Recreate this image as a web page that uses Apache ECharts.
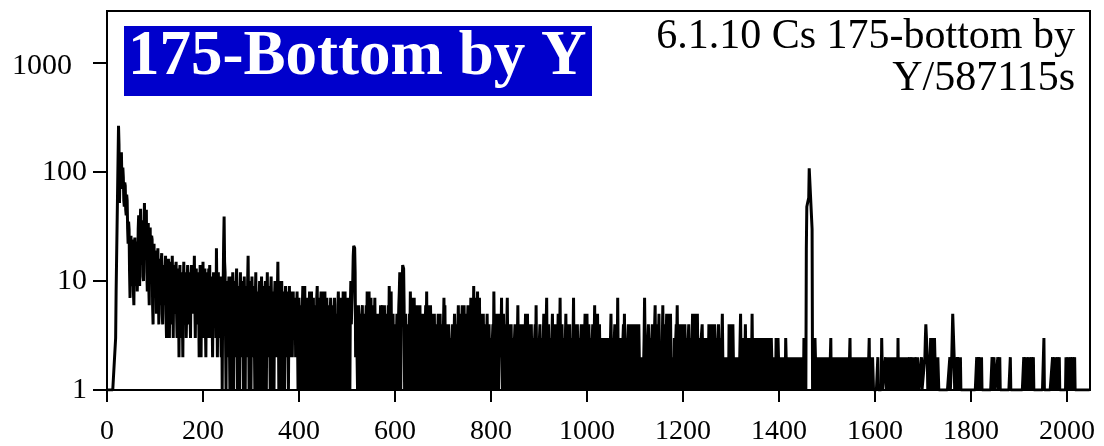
<!DOCTYPE html>
<html>
<head>
<meta charset="utf-8">
<title>175-Bottom by Y</title>
<script src="https://cdn.jsdelivr.net/npm/echarts@6/dist/echarts.min.js"></script>
<style>
  html, body { margin: 0; padding: 0; background: #fff; }
  #chart { width: 1104px; height: 446px; }
</style>
</head>
<body>
<div id="chart"></div>
<script>
// Gamma spectrum, counts per channel, 2048 channels split in four bands of 512.
// Empty channels are plotted at the floor of the log scale (1).
const countsBand1 = [ // channels 0-511
  1,1,1,1,1,1,1,1, 1,1,1,1,1,1,1,1, 1,1,3,8,16,32,64,130, 266,180,52,95,110,70,152,85,
  70,110,90,55,48,80,75,45, 40,62,55,30,22,35,30,12, 7,20,26,10,9,24,22,8, 6,18,25,9,11,23,21,8,
  12,30,40,15,9,28,46,20, 14,33,36,11,10,25,52,22, 18,38,45,12,8,27,34,9, 6,20,31,10,12,26,24,6,
  4,15,22,7,8,19,18,5, 5,14,20,9,4,12,16,6, 9,15,18,5,4,11,14,7, 6,13,17,5,3,10,14,6,
  16,7,3,11,15,6,4,12, 17,8,3,10,14,6,5,13, 15,5,3,9,13,7,2,11, 14,4,3,10,12,5,2,9,
  15,6,4,12,11,3,5,10, 14,6,4,9,12,5,3,11, 14,7,5,8,11,9,17,6, 3,10,13,5,4,9,12,6,
  2,8,14,5,2,9,12,6, 15,7,3,10,13,4,2,8, 12,5,3,9,13,7,14,4, 3,10,11,5,2,7,12,6,
  4,9,10,3,20,8,2,7, 12,5,3,10,11,4,2,8, 1,6,9,22,39,15,12,3, 1,7,10,4,2,8,11,3,
  1,6,11,4,1,8,12,5, 1,7,10,3,2,9,13,4, 1,6,9,5,1,8,12,3, 2,7,10,4,1,6,11,5,
  1,8,9,3,2,10,17,6, 1,7,10,4,1,5,11,6, 2,8,9,3,1,7,12,4, 1,6,8,5,1,7,10,3,
  1,6,11,4,1,7,9,3, 1,8,10,5,1,6,12,4, 2,7,9,3,1,8,11,5, 1,6,8,4,1,7,10,3,
  2,6,9,8,15,5,1,7, 10,4,1,6,10,5,1,7, 8,3,1,6,9,4,2,7, 8,3,1,5,9,4,2,6,
  8,4,2,5,8,3,3,6, 7,2,2,5,8,3,1,5, 7,3,1,5,6,2,1,6, 9,4,1,7,9,3,1,5,
  7,3,1,4,6,5,8,2, 1,6,8,3,1,5,7,2, 1,4,6,3,1,7,9,2, 1,5,7,3,1,6,8,2,
  1,5,8,3,1,6,8,2, 1,5,7,3,1,4,6,2, 1,5,7,3,1,4,6,2, 1,5,7,3,1,4,5,2,
  1,6,8,3,1,5,7,2, 1,4,6,3,8,2,1,5, 8,3,1,6,7,2,1,5, 7,3,1,6,10,4,4,8
];
const countsBand2 = [ // channels 512-1023
  10,17,21,21,20,12,2,3, 6,2,1,4,6,3,1,4, 5,2,1,5,6,2,1,4, 5,3,1,4,6,2,8,4,
  1,5,8,3,1,4,7,2, 1,5,6,2,1,4,7,3, 1,4,5,2,1,3,5,2, 1,4,6,2,1,5,6,2,
  1,4,6,2,1,3,5,2, 1,4,6,3,9,4,1,5, 8,2,1,3,5,2,1,4, 4,2,1,3,5,2,1,4,
  6,8,12,5,1,4,7,10, 14,14,13,6,1,3,5,2, 1,3,4,2,1,3,5,3, 8,4,1,5,7,2,1,4,
  7,3,1,4,6,2,1,4, 6,3,1,4,6,2,1,3, 5,2,1,4,5,2,1,4, 6,3,8,2,1,4,6,2,
  1,4,6,3,1,3,5,2, 1,4,5,2,1,3,4,2, 1,3,5,2,1,4,5,2, 1,3,4,2,1,4,7,3,
  6,2,1,3,4,2,1,3, 4,2,1,2,3,2,1,3, 4,2,1,3,5,2,1,3, 4,2,1,4,6,2,1,4,
  5,2,1,4,6,3,1,4, 6,2,1,3,5,2,1,4, 6,3,1,4,5,3,7,2, 1,4,7,3,9,4,1,5,
  7,3,1,4,8,3,1,5, 7,2,1,3,5,2,1,3, 5,2,1,3,4,2,1,3, 5,2,1,3,4,2,1,2,
  3,2,1,3,4,2,8,3, 1,3,5,2,1,3,5,2, 1,3,4,2,5,3,7,2, 1,3,5,2,1,3,4,2,
  1,4,7,2,1,3,4,2, 1,3,4,2,1,2,3,2, 1,3,4,2,1,3,4,3, 6,2,1,3,4,2,1,3,
  4,2,1,3,4,2,1,3, 5,2,1,3,5,2,1,3, 4,2,1,3,4,2,1,2, 3,2,1,3,4,2,6,2,
  1,2,3,2,1,3,4,2, 1,2,3,2,1,3,5,2, 1,2,3,4,7,2,1,3, 4,2,1,2,3,2,1,3,
  5,2,1,3,4,2,1,3, 4,2,1,3,5,2,1,3, 7,2,1,3,4,2,1,2, 3,2,1,3,5,2,1,3,
  4,2,1,3,4,2,1,2, 3,2,1,3,7,2,1,3, 4,2,1,3,4,2,1,2, 3,2,1,3,4,2,1,3,
  4,2,1,3,5,2,1,4, 5,2,1,3,4,2,1,2, 3,2,1,3,4,2,1,3, 6,2,1,3,4,2,5,2
];
const countsBand3 = [ // channels 1024-1535
  1,3,4,2,1,2,3,2, 1,2,3,2,1,2,3,2, 1,2,3,2,1,2,3,2, 1,3,5,2,1,2,3,2,
  1,3,4,2,1,2,3,2, 7,2,1,2,3,2,1,2, 3,2,1,3,4,2,5,2, 1,2,3,2,1,3,4,2,
  1,3,4,2,1,3,4,2, 1,3,4,2,1,3,4,2, 1,2,3,2,4,2,1,2, 2,1,1,2,2,1,1,3,
  7,3,1,2,3,2,1,3, 4,2,1,2,3,2,1,3, 4,2,1,2,3,4,6,2, 1,3,4,2,1,3,5,2,
  1,2,2,1,1,3,6,2, 1,3,4,2,1,3,5,2, 1,3,5,2,1,3,5,2, 1,2,1,1,2,1,3,2,
  1,3,4,3,6,2,1,3, 4,2,1,3,4,2,1,3, 4,2,1,3,4,2,1,2, 3,2,1,3,4,2,1,2,
  3,2,1,3,5,2,1,3, 5,2,1,3,4,3,5,2, 1,2,3,2,1,2,3,3, 4,2,1,2,3,2,1,2,
  3,2,1,2,3,2,4,2, 1,3,4,2,1,3,4,2, 1,3,4,2,1,2,3,2, 1,3,4,2,1,2,3,2,
  1,3,5,2,1,2,2,1, 1,2,2,1,1,2,2,1, 4,2,1,2,4,2,1,3, 4,2,1,2,2,1,1,2,
  2,1,1,2,2,1,1,3, 5,2,1,2,3,2,1,2, 1,2,4,2,1,2,3,2, 1,2,1,2,3,2,1,2,
  5,2,1,2,3,2,1,2, 3,2,1,2,3,2,1,2, 3,2,1,2,3,2,1,2, 3,2,1,2,3,2,1,2,
  3,2,1,2,3,2,1,2, 3,2,1,2,2,1,1,2, 2,1,3,2,1,2,3,2, 2,1,1,2,2,1,1,2,
  2,1,1,2,2,1,3,2, 1,2,2,1,1,2,2,1, 1,2,2,1,1,2,2,1, 2,1,1,2,2,1,1,2,
  2,1,1,2,2,1,1,2, 2,1,2,1,3,2,1,2, 1,20,48,50,53,55,58,108, 108,108,108,108,108,30,1,2,
  3,2,1,3,2,1,1,1, 1,2,2,1,1,2,2,1, 1,2,2,1,1,2,2,1, 2,1,1,2,2,1,1,2,
  2,1,1,2,3,1,1,2, 2,1,1,2,2,1,1,2, 2,1,1,2,2,1,1,2, 2,1,1,2,2,1,1,2
];
const countsBand4 = [ // channels 1536-2047
  2,1,1,2,2,1,1,2, 2,1,1,2,3,1,1,2, 2,1,1,2,2,1,1,2, 2,1,1,2,2,1,1,2,
  2,1,1,2,2,1,1,2, 2,1,1,2,2,1,1,2, 2,1,1,2,3,1,1,2, 2,1,1,2,2,1,1,1,
  1,1,1,1,1,1,2,1, 1,1,1,1,1,1,3,3, 1,1,1,1,1,1,2,2, 1,1,2,1,1,2,2,1,
  1,2,2,1,1,2,2,1, 1,2,2,1,1,2,2,1, 3,1,1,2,2,1,1,2, 2,1,1,2,2,1,1,2,
  2,1,1,2,2,1,1,1, 2,1,1,1,1,2,2,1, 1,2,2,1,1,1,2,1, 1,2,2,1,1,1,1,1,
  1,2,1,1,1,1,1,1, 2,3,4,4,4,2,1,1, 2,1,1,2,3,2,2,1, 3,2,1,2,3,2,2,1,
  2,1,1,2,2,1,1,1, 1,1,1,1,1,1,1,1, 1,1,1,1,1,1,1,1, 1,1,1,1,2,1,1,1,
  2,2,5,5,5,2,1,1, 2,1,1,1,2,2,2,1, 1,1,2,1,1,1,1,1, 1,1,1,1,1,1,1,1,
  1,1,1,1,1,1,1,1, 1,1,1,1,1,1,1,1, 1,1,1,1,2,1,1,1, 2,2,2,1,1,1,2,1,
  1,1,1,1,1,1,1,1, 1,1,1,1,1,1,1,1, 1,1,1,1,2,1,1,1, 2,2,1,1,1,1,1,1,
  2,1,1,1,2,1,1,1, 1,1,1,1,1,1,1,1, 1,1,1,1,1,1,1,1, 1,1,2,1,1,1,1,1,
  1,1,1,1,1,1,1,1, 1,1,1,1,1,1,1,1, 1,1,1,1,1,1,2,1, 1,1,2,1,1,1,1,1,
  2,1,2,1,1,1,2,1, 1,1,2,1,1,1,1,1, 1,1,1,1,1,1,1,1, 1,1,1,1,1,1,1,1,
  3,1,1,1,1,1,1,1, 1,1,1,1,1,1,1,1, 1,1,2,1,1,1,2,1, 2,1,1,1,2,1,1,1,
  2,1,1,1,1,1,1,1, 1,1,1,1,1,1,2,1, 1,1,2,1,2,1,1,1, 2,1,1,1,2,1,1,1,
  2,1,1,1,1,1,1,1, 1,1,1,1,1,1,1,1, 1,1,1,1,1,1,1,1, 1,1,1,1,1,1,1,1
];

const xTickValues = [0, 200, 400, 600, 800, 1000, 1200, 1400, 1600, 1800, 2000];
const yTickValues = [1, 10, 100, 1000];
const titleText = '175-Bottom by Y';
const noteLines = ['6.1.10 Cs 175-bottom by', 'Y/587115s'];

const serif = 'Liberation Serif';
const counts = [].concat(countsBand1, countsBand2, countsBand3, countsBand4);
const spectrum = counts.map((c, ch) => [ch, c]);

function noteText(text, y) {
  return {
    type: 'text', x: 1075, y: y,
    style: {
      text: text, fill: '#000000',
      fontFamily: serif, fontSize: 42, fontWeight: 'normal',
      textAlign: 'right', align: 'right',
      textVerticalAlign: 'middle', verticalAlign: 'middle'
    }
  };
}

const chart = echarts.init(document.getElementById('chart'), null, { renderer: 'canvas' });
chart.setOption({
  animation: false,
  backgroundColor: '#ffffff',
  graphic: [
    // title badge
    { type: 'rect', shape: { x: 124, y: 26, width: 468, height: 70 }, style: { fill: '#0000cc' } },
    {
      type: 'text', x: 128, y: 58,
      style: {
        text: titleText, fill: '#ffffff',
        fontFamily: serif, fontSize: 63, fontWeight: 'bold',
        textAlign: 'left', align: 'left',
        textVerticalAlign: 'middle', verticalAlign: 'middle'
      }
    },
    // run note, right aligned in the upper right corner
    noteText(noteLines[0], 37),
    noteText(noteLines[1], 79)
  ],
  grid: {
    left: 107, right: 14, top: 11, bottom: 55,
    show: true, borderColor: '#000000', borderWidth: 2,
    backgroundColor: 'transparent'
  },
  xAxis: {
    type: 'value',
    min: 0, max: 2048, interval: 200,
    splitLine: { show: false },
    axisLine: { lineStyle: { color: '#000000', width: 2 } },
    axisTick: { length: 12, customValues: xTickValues, lineStyle: { color: '#000000', width: 2 } },
    axisLabel: {
      customValues: xTickValues, margin: 28,
      formatter: v => String(v),
      color: '#000000', fontFamily: serif, fontSize: 28
    }
  },
  yAxis: {
    type: 'log', logBase: 10,
    min: 1, max: 3000,
    splitLine: { show: false },
    axisLine: { lineStyle: { color: '#000000', width: 2 } },
    axisTick: { length: 14, customValues: yTickValues, lineStyle: { color: '#000000', width: 2 } },
    axisLabel: {
      customValues: yTickValues, margin: 20,
      formatter: v => (v >= 1000 ? '{wide|' + v + '}' : String(v)),
      rich: { wide: { padding: [6, 15, 0, 0], fontFamily: serif, fontSize: 30, color: '#000000' } },
      color: '#000000', fontFamily: serif, fontSize: 30
    }
  },
  series: [{
    type: 'line',
    data: spectrum,
    showSymbol: false,
    sampling: false,
    lineStyle: { color: '#000000', width: 3, join: 'bevel' },
    emphasis: { disabled: true }
  }]
});
</script>
</body>
</html>
